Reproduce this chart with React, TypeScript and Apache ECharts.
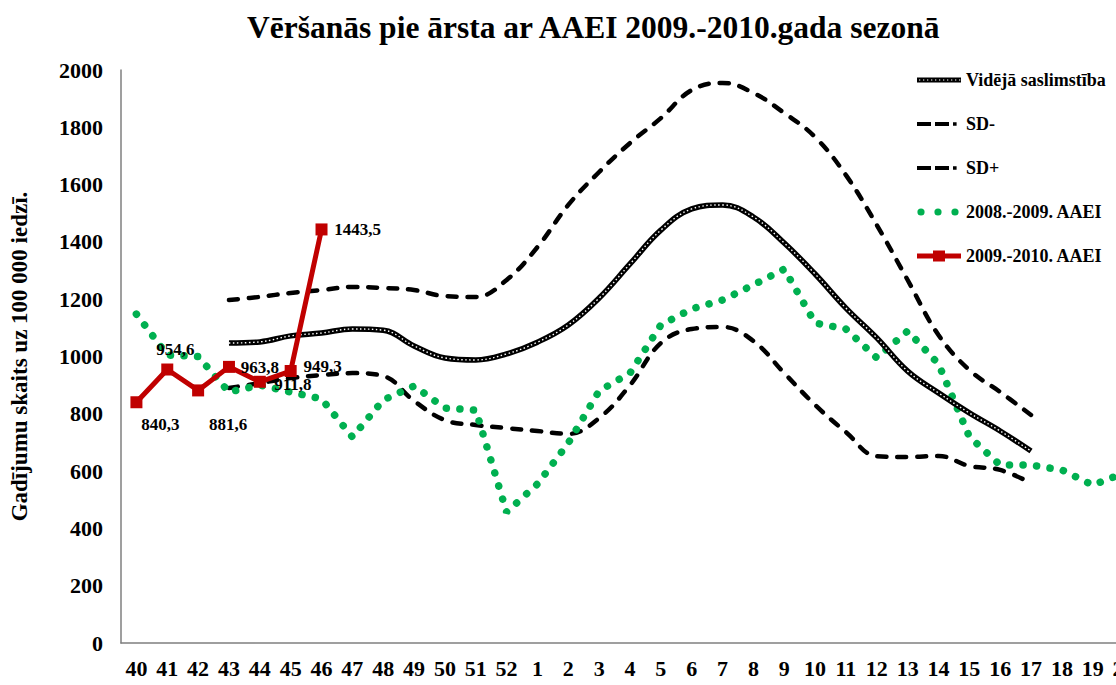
import React, { useEffect, useRef } from "react";
import * as echarts from "echarts";

const weeks = ["40","41","42","43","44","45","46","47","48","49","50","51","52","1","2","3","4","5","6","7","8","9","10","11","12","13","14","15","16","17","18","19","20"];

const average = [null,null,null,1047,1051,1072,1082,1096,1092,1037,995,988,1009,1050,1110,1204,1323,1441,1515,1529,1487,1396,1288,1169,1065,949,873,803,740,670,null,null,null];
const sdMinus = [null,null,null,890,907,925,935,942,932,845,778,761,750,740,730,785,900,1047,1096,1103,1054,942,831,736,652,649,653,618,604,558,null,null,null];
const sdPlus = [null,null,null,1197,1208,1222,1232,1243,1239,1232,1211,1208,1267,1382,1529,1644,1745,1832,1930,1955,1920,1850,1766,1633,1459,1267,1075,953,876,796,null,null,null];
const season0809 = [1148,1005,1000,876,900,876,852,719,848,897,820,813,457,555,698,880,942,1110,1166,1197,1250,1305,1117,1096,995,1089,974,720,621,621,604,551,593];
const season0910 = [840.3,954.6,881.6,963.8,911.8,949.3,1443.5];

const yTicks = [0, 200, 400, 600, 800, 1000, 1200, 1400, 1600, 1800, 2000];

const FONT = '"Liberation Serif", "Times New Roman", serif';

const labelOffsets = [[24, 22], [8, -20], [30, 34], [31, 1], [33, 3], [32, -5], [36, 0]];

// legend icon shapes (44 x 14 box; corner specks keep the box size)
const SPECKS = "M0,0h0.01v0.01h-0.01z M43.99,13.99h0.01v0.01h-0.01z ";
let avgHoles = "";
for (let x = 2; x < 43; x += 4) avgHoles += `M${x},6.4V7.6H${x + 1.3}V6.4Z `;
const ICON_AVG = "path://" + SPECKS + "M0,4.5H44V9.5H0Z " + avgHoles;
const ICON_SD = "path://" + SPECKS + "M0,5H14V9H0Z M18,5H32V9H18Z M36,5.2H39.6V8.8H36Z";
const circle = (cx: number, r: number) => `M${cx - r},7a${r},${r} 0 1,0 ${2 * r},0a${r},${r} 0 1,0 ${-2 * r},0Z `;
const ICON_GREEN = "path://" + SPECKS + circle(4, 3.6) + circle(21, 3.6) + circle(38, 3.6);
const ICON_RED = "path://" + SPECKS + "M0,4.5H44V9.5H0Z M16,1.5H28V12.5H16Z";

export default function App() {
  const ref = useRef<HTMLDivElement>(null);
  useEffect(() => {
    if (!ref.current) return;
    const chart = echarts.init(ref.current, null, { renderer: "svg" });
    const redData = season0910.map((v, i) => ({
      value: v,
      label: {
        show: true,
        position: "inside",
        offset: labelOffsets[i],
        formatter: () => String(v).replace(".", ","),
        fontFamily: FONT,
        fontWeight: "bold",
        fontSize: 17,
        color: "#000",
      },
    }));
    chart.setOption({
      animation: false,
      textStyle: { fontFamily: FONT },
      title: {
        text: "Vēršanās pie ārsta ar AAEI 2009.-2010.gada sezonā",
        left: 242,
        top: 6,
        textStyle: { fontFamily: FONT, fontWeight: "bold", fontSize: 31.5, color: "#000" },
      },
      legend: {
        orient: "vertical",
        left: 912,
        top: 65,
        itemWidth: 44,
        itemHeight: 14,
        itemGap: 24,
        symbolKeepAspect: false,
        itemStyle: { borderWidth: 0 },
        data: [
          { name: "Vidējā saslimstība", icon: ICON_AVG },
          { name: "SD-", icon: ICON_SD },
          { name: "SD+", icon: ICON_SD },
          { name: "2008.-2009. AAEI", icon: ICON_GREEN },
          { name: "2009.-2010. AAEI", icon: ICON_RED },
        ],
        textStyle: { fontFamily: FONT, fontWeight: "bold", fontSize: 18, color: "#000", lineHeight: 20 },
      },
      grid: { left: 121, top: 70, width: 1018, height: 573, containLabel: false },
      xAxis: {
        type: "category",
        data: weeks,
        boundaryGap: true,
        axisLine: { lineStyle: { color: "#7f7f7f", width: 1.5 } },
        axisTick: { show: false },
        axisLabel: { interval: 0, margin: 14, fontFamily: FONT, fontWeight: "bold", fontSize: 22, color: "#000" },
      },
      yAxis: {
        type: "value",
        min: yTicks[0],
        max: yTicks[yTicks.length - 1],
        interval: 200,
        name: "Gadījumu skaits uz 100 000 iedzī.",
        nameLocation: "middle",
        nameGap: 90,
        nameTextStyle: { fontFamily: FONT, fontWeight: "bold", fontSize: 23, color: "#000" },
        axisLine: { show: true, lineStyle: { color: "#7f7f7f", width: 1.5 } },
        axisTick: { show: false },
        splitLine: { show: false },
        axisLabel: {
          margin: 18,
          formatter: (v: number) => String(v),
          fontFamily: FONT,
          fontWeight: "bold",
          fontSize: 22,
          color: "#000",
        },
      },
      series: [
        {
          name: "SD-",
          type: "line",
          data: sdMinus,
          smooth: 0.4,
          showSymbol: false,
          symbol: "none",
          lineStyle: { color: "#000", width: 4.5, type: [9, 11], cap: "round" },
          itemStyle: { color: "#000" },
          z: 2,
        },
        {
          name: "SD+",
          type: "line",
          data: sdPlus,
          smooth: 0.4,
          showSymbol: false,
          symbol: "none",
          lineStyle: { color: "#000", width: 4.5, type: [9, 11], cap: "round" },
          itemStyle: { color: "#000" },
          z: 2,
        },
        {
          name: "2008.-2009. AAEI",
          type: "line",
          data: season0809,
          showSymbol: false,
          symbol: "none",
          lineStyle: { color: "#00b050", width: 7.5, type: [0.1, 13.5], cap: "round" },
          itemStyle: { color: "#00b050" },
          z: 3,
        },
        {
          name: "Vidējā saslimstība",
          type: "line",
          data: average,
          smooth: 0.4,
          showSymbol: false,
          symbol: "none",
          lineStyle: { color: "#000", width: 5.5 },
          itemStyle: { color: "#000" },
          z: 4,
        },
        {
          name: "avg-inner",
          type: "line",
          data: average,
          smooth: 0.4,
          showSymbol: false,
          symbol: "none",
          silent: true,
          lineStyle: { color: "#fff", width: 1.4, type: [1.5, 2.5] },
          z: 5,
        },
        {
          name: "2009.-2010. AAEI",
          type: "line",
          data: redData,
          symbol: "rect",
          symbolSize: 12,
          showSymbol: true,
          lineStyle: { color: "#c00000", width: 5 },
          itemStyle: { color: "#c00000" },
          z: 6,
        },
      ],
    });
    return () => chart.dispose();
  }, []);
  return (
    <div style={{ position: "fixed", left: 0, top: 0, width: 1116, height: 685, overflow: "hidden", background: "#fff" }}>
      <div ref={ref} style={{ width: 1160, height: 685 }} />
    </div>
  );
}
